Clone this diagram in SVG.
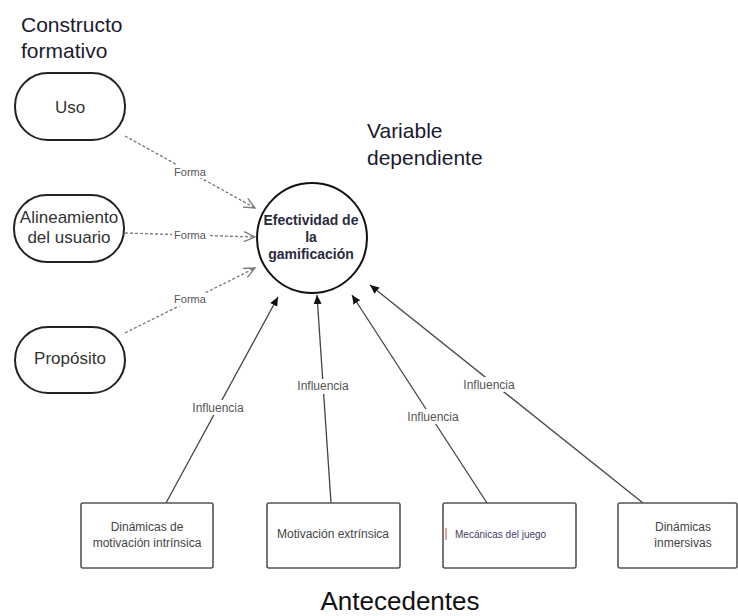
<svg xmlns="http://www.w3.org/2000/svg" width="738" height="616" viewBox="0 0 738 616">
<style>
.t{font-family:"Liberation Sans",Arial,sans-serif;}
.head{font-size:21px;fill:#1a1a2e;}
.ell{fill:#fff;stroke:#222;stroke-width:2;}
.ellt{font-size:17px;fill:#333;text-anchor:middle;}
.box{fill:#fff;stroke:#555;stroke-width:1.6;}
.boxt{font-size:12px;fill:#444;text-anchor:middle;}
.dash{fill:none;stroke:#777;stroke-width:1.3;stroke-dasharray:3 2;}
.solid{fill:none;stroke:#444;stroke-width:1.3;}
.lbl{font-size:11px;fill:#555;text-anchor:middle;}
.ilbl{font-size:12px;fill:#555;text-anchor:middle;}
.ct{font-size:14px;font-weight:bold;fill:#2a2a40;text-anchor:middle;}
</style>
<defs>
<marker id="open" markerWidth="14" markerHeight="12" refX="12" refY="6" orient="auto" markerUnits="userSpaceOnUse">
<path d="M1,1 L12,6 L1,11" fill="none" stroke="#777" stroke-width="1.3"/>
</marker>
<marker id="fill" markerWidth="10" markerHeight="10" refX="9" refY="5" orient="auto" markerUnits="userSpaceOnUse">
<path d="M0,1 L9,5 L0,9 Z" fill="#111"/>
</marker>
</defs>
<rect width="738" height="616" fill="#fff"/>
<text class="t head" x="21" y="32">Constructo</text>
<text class="t head" x="21" y="58">formativo</text>
<text class="t head" x="367" y="138">Variable</text>
<text class="t head" x="367" y="165">dependiente</text>
<text class="t" x="400" y="610" font-size="26" fill="#111" text-anchor="middle">Antecedentes</text>
<g id="connectors">
<line class="dash" x1="125" y1="136" x2="255" y2="208" marker-end="url(#open)"/>
<line class="dash" x1="125" y1="233" x2="255" y2="237" marker-end="url(#open)"/>
<line class="dash" x1="125" y1="333" x2="255" y2="268" marker-end="url(#open)"/>
<line class="solid" x1="166" y1="503" x2="278" y2="297" marker-end="url(#fill)"/>
<line class="solid" x1="331" y1="503" x2="317" y2="295" marker-end="url(#fill)"/>
<line class="solid" x1="487" y1="503" x2="352" y2="295" marker-end="url(#fill)"/>
<line class="solid" x1="643" y1="503" x2="370" y2="285" marker-end="url(#fill)"/>
<rect x="172" y="165" width="36" height="13" fill="#fff"/>
<text class="t lbl" x="190" y="176">Forma</text>
<rect x="172" y="229" width="36" height="13" fill="#fff"/>
<text class="t lbl" x="190" y="239">Forma</text>
<rect x="172" y="293" width="36" height="13" fill="#fff"/>
<text class="t lbl" x="190" y="303">Forma</text>
<rect x="188" y="400" width="60" height="15" fill="#fff"/>
<text class="t ilbl" x="218" y="412">Influencia</text>
<rect x="293" y="379" width="60" height="15" fill="#fff"/>
<text class="t ilbl" x="323" y="390">Influencia</text>
<rect x="403" y="409" width="60" height="15" fill="#fff"/>
<text class="t ilbl" x="433" y="421">Influencia</text>
<rect x="459" y="377" width="60" height="15" fill="#fff"/>
<text class="t ilbl" x="489" y="389">Influencia</text>
</g>
<g id="uso">
<rect class="ell" x="15" y="73" width="110" height="67" rx="33" ry="33"/>
<text class="t ellt" x="70" y="113">Uso</text>
</g>
<g id="alineamiento">
<rect class="ell" x="14" y="195" width="110" height="67" rx="33" ry="33"/>
<text class="t ellt" x="69" y="223">Alineamiento</text>
<text class="t ellt" x="69" y="243">del usuario</text>
</g>
<g id="proposito">
<rect class="ell" x="15" y="327" width="110" height="66" rx="33" ry="33"/>
<text class="t ellt" x="70" y="364">Propósito</text>
</g>
<g id="efectividad">
<circle cx="312" cy="238" r="55" fill="#fff" stroke="#111" stroke-width="2"/>
<text class="t ct" x="311" y="225">Efectividad de</text>
<text class="t ct" x="311" y="242">la</text>
<text class="t ct" x="311" y="259">gamificación</text>
</g>
<g id="dinamicas-intrinsica">
<rect class="box" x="81" y="503" width="132" height="65" rx="2"/>
<text class="t boxt" x="147" y="531">Dinámicas de</text>
<text class="t boxt" x="147" y="547">motivación intrínsica</text>
</g>
<g id="motivacion-extrinsica">
<rect class="box" x="267" y="503" width="133" height="65" rx="2"/>
<text class="t boxt" x="333" y="538">Motivación extrínsica</text>
</g>
<g id="mecanicas">
<rect class="box" x="443" y="503" width="133" height="65" rx="2"/>
<line x1="446" y1="528" x2="446" y2="540" stroke="#d04040" stroke-width="1"/>
<text class="t" x="455" y="538" font-size="10" fill="#4a3a6a">Mecánicas del juego</text>
</g>
<g id="dinamicas-inmersivas">
<rect class="box" x="618" y="503" width="119" height="65" rx="2"/>
<text class="t boxt" x="683" y="531">Dinámicas</text>
<text class="t boxt" x="683" y="547">inmersivas</text>
</g>
</svg>
